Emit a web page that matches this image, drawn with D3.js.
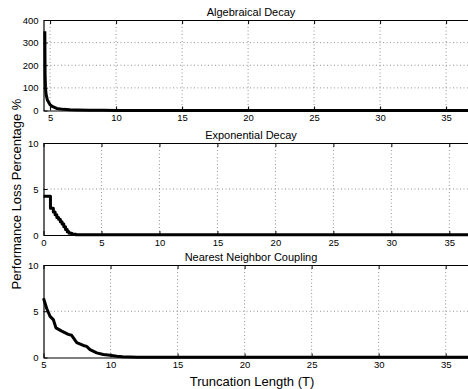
<!DOCTYPE html>
<html>
<head>
<meta charset="utf-8">
<script src="https://cdn.jsdelivr.net/npm/d3@7"></script>
<style>
  body { margin: 0; background: #fff; }
  svg text { font-family: "Liberation Sans", Arial, sans-serif; fill: #000; }
</style>
</head>
<body>
<div id="container"></div>
<script>
// values
const algT = [4.6, 4.62, 4.65, 4.7, 4.8, 5.0, 5.2, 5.5, 6.0, 6.5, 7, 8, 9, 10, 12, 15, 20, 25, 30, 37];
const algLoss = [350, 160, 100, 70, 45, 25, 17, 9, 5, 3, 2, 1.2, 0.8, 0.5, 0.3, 0.2, 0.1, 0.05, 0.03, 0.02];

const expT = [0, 0.6, 0.85, 1.0, 1.15, 1.3, 1.45, 1.6, 1.75, 1.9, 2.05, 2.2, 2.45, 2.8, 4, 37];
const expLoss = [4.2, 2.9, 2.5, 2.2, 1.9, 1.7, 1.45, 1.2, 0.9, 0.6, 0.35, 0.2, 0.08, 0.04, 0.02, 0.02];

const nnT = [5, 5.24, 5.49, 5.73, 5.93, 6.36, 6.85, 7.1, 7.48, 7.97, 8.22, 8.47, 8.97, 9.46, 9.96, 10.46, 10.9, 12, 15, 37];
const nnLoss = [6.4, 5.3, 4.45, 4.1, 3.2, 2.85, 2.5, 2.4, 1.6, 1.3, 1.2, 0.86, 0.5, 0.32, 0.25, 0.14, 0.07, 0.04, 0.02, 0.02];

const algXTicks = [5, 10, 15, 20, 25, 30, 35];
const algYTicks = [0, 100, 200, 300, 400];
const expXTicks = [0, 5, 10, 15, 20, 25, 30, 35];
const expYTicks = [0, 5, 10];
const nnXTicks = [5, 10, 15, 20, 25, 30, 35];
const nnYTicks = [0, 5, 10];

const titles = ["Algebraical Decay", "Exponential Decay", "Nearest Neighbor Coupling"];

const width = 468, height = 389;
const left = 43.5, right = 472.5; // right edge is cut off in the original

const panels = [
  { title: titles[0], xs: algT, ys: algLoss, xDom: [4.5, 37], yDom: [0, 400], xt: algXTicks, yt: algYTicks, top: 20, bottom: 110.5, step: false },
  { title: titles[1], xs: expT, ys: expLoss, xDom: [0, 37], yDom: [0, 10], xt: expXTicks, yt: expYTicks, top: 143, bottom: 235, step: true },
  { title: titles[2], xs: nnT, ys: nnLoss, xDom: [5, 37], yDom: [0, 10], xt: nnXTicks, yt: nnYTicks, top: 265, bottom: 357.5, step: false }
];

const svg = d3.select("#container").append("svg")
  .attr("width", width).attr("height", height);

svg.append("rect").attr("width", width).attr("height", height).attr("fill", "white");

panels.forEach((p) => {
  const x = d3.scaleLinear().domain(p.xDom).range([left, right]);
  const y = d3.scaleLinear().domain(p.yDom).range([p.bottom, p.top]);
  const g = svg.append("g");

  // dotted grid
  g.append("g")
    .selectAll("line")
    .data(p.xt.filter((t) => x(t) > left + 1))
    .join("line")
    .attr("x1", (d) => x(d)).attr("x2", (d) => x(d))
    .attr("y1", p.top).attr("y2", p.bottom)
    .attr("stroke", "#777").attr("stroke-width", 0.8)
    .attr("stroke-dasharray", "1,2.5");
  g.append("g")
    .selectAll("line")
    .data(p.yt.filter((t) => t !== p.yDom[0] && t !== p.yDom[1]))
    .join("line")
    .attr("x1", left).attr("x2", right)
    .attr("y1", (d) => y(d)).attr("y2", (d) => y(d))
    .attr("stroke", "#777").attr("stroke-width", 0.8)
    .attr("stroke-dasharray", "1,2.5");

  // data line
  const line = d3.line()
    .x((d, i) => x(p.xs[i]))
    .y((d) => y(d))
    .curve(p.step ? d3.curveStepAfter : d3.curveLinear);
  g.append("path")
    .datum(p.ys)
    .attr("fill", "none")
    .attr("stroke", "#000")
    .attr("stroke-width", 3)
    .attr("stroke-linejoin", "round")
    .attr("d", line);

  // axes (ticks inside, MATLAB style)
  const xAx = g.append("g")
    .attr("transform", `translate(0,${p.bottom})`)
    .call(d3.axisBottom(x).tickValues(p.xt).tickSizeInner(-4).tickSizeOuter(0).tickPadding(4));
  xAx.select(".domain").attr("stroke-width", 1.2);
  xAx.selectAll("text").attr("font-size", 9.5);

  const xTop = g.append("g")
    .attr("transform", `translate(0,${p.top})`)
    .call(d3.axisTop(x).tickValues(p.xt).tickSizeInner(-4).tickSizeOuter(0).tickFormat(""));
  xTop.select(".domain").attr("stroke-width", 1.2);

  const yAx = g.append("g")
    .attr("transform", `translate(${left},0)`)
    .call(d3.axisLeft(y).tickValues(p.yt).tickSizeInner(-4).tickSizeOuter(0).tickPadding(5));
  yAx.select(".domain").attr("stroke-width", 1.2);
  yAx.selectAll("text").attr("font-size", 9.5);

  g.append("text")
    .attr("x", 251).attr("y", p.top - 4)
    .attr("text-anchor", "middle")
    .attr("font-size", 11)
    .text(p.title);
});

svg.append("text")
  .attr("x", 252).attr("y", 386)
  .attr("text-anchor", "middle")
  .attr("font-size", 13)
  .text("Truncation Length (T)");

svg.append("text")
  .attr("transform", "translate(21,194) rotate(-90)")
  .attr("text-anchor", "middle")
  .attr("font-size", 13)
  .text("Performance Loss Percentage %");
</script>
</body>
</html>
